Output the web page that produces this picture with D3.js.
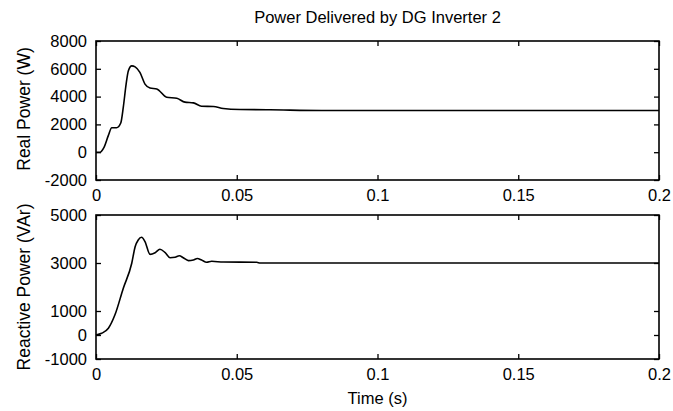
<!DOCTYPE html>
<html>
<head>
<meta charset="utf-8">
<script src="https://cdn.jsdelivr.net/npm/d3@7"></script>
<style>
  body { margin: 0; background: #fff; }
  text { font-family: "Liberation Sans", Arial, sans-serif; fill: #000; }
</style>
</head>
<body>
<div id="container"></div>
<script>
// data
let realTime  = [0, 0.0014, 0.0028, 0.0044, 0.0056, 0.0073, 0.0088, 0.0097, 0.0107, 0.0115, 0.0127, 0.0139, 0.0156, 0.0174, 0.0192, 0.0216, 0.0251, 0.0287, 0.0316, 0.0346, 0.0375, 0.0417, 0.0452, 0.0512, 0.0618, 0.08, 0.2];
let realPower = [0, 0, 330, 1210, 1760, 1760, 2100, 3240, 4900, 5860, 6210, 6140, 5740, 4900, 4620, 4550, 3950, 3880, 3600, 3550, 3310, 3290, 3140, 3070, 3050, 3000, 3000];

let reacTime  = [0, 0.002, 0.0044, 0.0067, 0.0097, 0.0127, 0.0139, 0.015, 0.0162, 0.0174, 0.0192, 0.021, 0.0227, 0.0245, 0.0263, 0.0281, 0.0296, 0.031, 0.0328, 0.0346, 0.036, 0.0375, 0.0393, 0.0411, 0.0452, 0.0571, 0.0583, 0.2];
let reacPower = [0, 70, 280, 830, 1950, 2990, 3680, 3960, 4070, 3890, 3360, 3430, 3570, 3440, 3220, 3240, 3300, 3220, 3100, 3125, 3190, 3125, 3030, 3070, 3040, 3030, 3000, 3000];

let xTicks = [0, 0.05, 0.1, 0.15, 0.2];
let realTicks = [-2000, 0, 2000, 4000, 6000, 8000];
let reacTicks = [-1000, 0, 1000, 3000, 5000];

let w = 673;
let h = 411;
let left = 96, right = 659;
let fs = 16.5;

let viz = d3.select("#container")
  .append("svg")
    .attr("width", w)
    .attr("height", h);

let xScale = d3.scaleLinear().domain([0, 0.2]).range([left, right]);

function drawPanel(top, bottom, domain, yTicks, times, values, label, labelY) {
  let yScale = d3.scaleLinear().domain(domain).range([bottom, top]);
  let g = viz.append("g");

  // line
  let pts = times.map(function(t, i){ return [t, values[i]]; });
  let lineMaker = d3.line()
    .x(function(d){ return xScale(d[0]); })
    .y(function(d){ return yScale(d[1]); })
    .curve(d3.curveMonotoneX);
  g.append("path")
    .attr("d", lineMaker(pts))
    .attr("fill", "none")
    .attr("stroke", "#000")
    .attr("stroke-width", 1.6);

  // axes, ticks pointing inward like matlab
  let xb = d3.axisBottom(xScale).tickValues(xTicks).tickSizeInner(-5).tickSizeOuter(0).tickPadding(9)
    .tickFormat(function(d){ return String(d); });
  let xt = d3.axisTop(xScale).tickValues(xTicks).tickSizeInner(-5).tickSizeOuter(0).tickFormat("");
  let yl = d3.axisLeft(yScale).tickValues(yTicks).tickSizeInner(-5).tickSizeOuter(0).tickPadding(9)
    .tickFormat(function(d){ return String(d); });
  let yr = d3.axisRight(yScale).tickValues(yTicks).tickSizeInner(-5).tickSizeOuter(0).tickFormat("");

  g.append("g").attr("transform", "translate(0," + bottom + ")").call(xb);
  g.append("g").attr("transform", "translate(0," + top + ")").call(xt);
  g.append("g").attr("transform", "translate(" + left + ",0)").call(yl);
  g.append("g").attr("transform", "translate(" + right + ",0)").call(yr);

  g.selectAll(".domain").remove();
  g.selectAll(".tick line").attr("stroke", "#000").attr("stroke-width", 1.3);
  g.selectAll(".tick text").attr("font-size", fs).style("font-family", "Liberation Sans, Arial, sans-serif");

  g.append("rect")
    .attr("x", left).attr("y", top)
    .attr("width", right - left).attr("height", bottom - top)
    .attr("fill", "none").attr("stroke", "#000").attr("stroke-width", 1.6);

  g.append("text")
    .attr("transform", "translate(30," + labelY + ") rotate(-90)")
    .attr("text-anchor", "middle")
    .attr("font-size", 17.5)
    .text(label);
}

drawPanel(41, 180, [-2000, 8000], realTicks, realTime, realPower, "Real Power (W)", 109);
drawPanel(215, 359, [-1000, 5000], reacTicks, reacTime, reacPower, "Reactive Power (VAr)", 287);

viz.append("text")
  .attr("x", (left + right) / 2).attr("y", 23)
  .attr("text-anchor", "middle").attr("font-size", fs)
  .text("Power Delivered by DG Inverter 2");

viz.append("text")
  .attr("x", (left + right) / 2).attr("y", 404)
  .attr("text-anchor", "middle").attr("font-size", fs)
  .text("Time (s)");
</script>
</body>
</html>
